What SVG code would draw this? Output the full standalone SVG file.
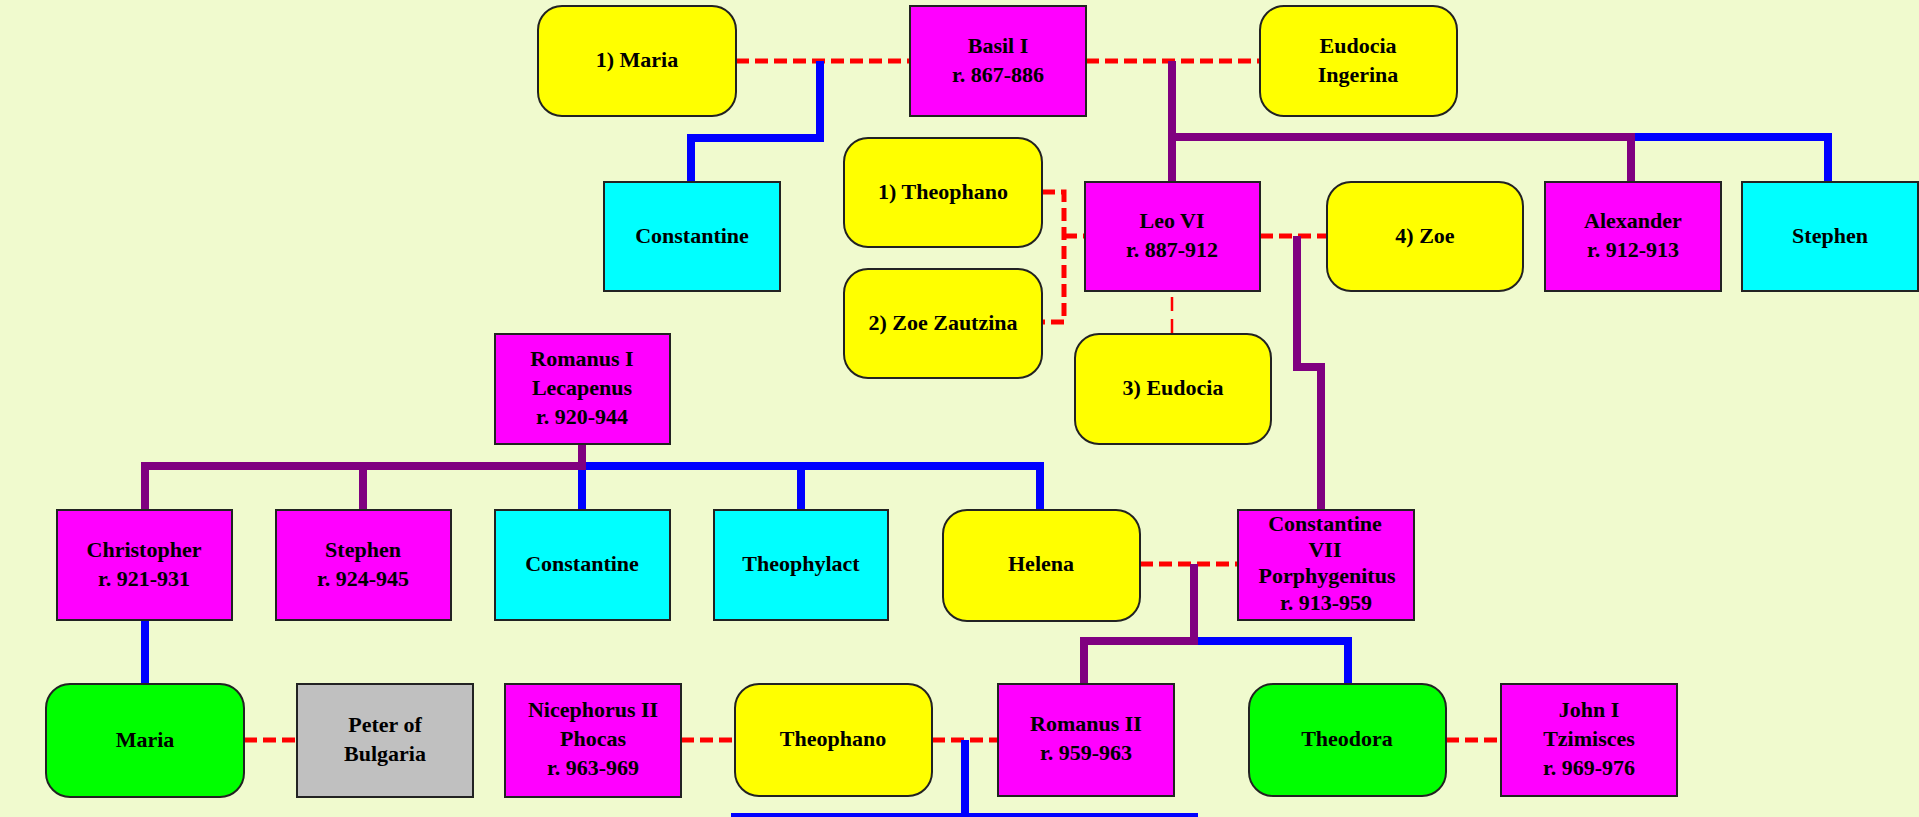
<svg xmlns="http://www.w3.org/2000/svg" width="1919" height="817" viewBox="0 0 1919 817">
<style>
.n{stroke:#222;stroke-width:2}
.m{fill:#FF00FF}.y{fill:#FFFF00}.c{fill:#00FFFF}.g{fill:#00FF00}.s{fill:#C0C0C0}
text{font-family:"Liberation Serif","Times New Roman",serif;font-weight:bold;font-size:22px;fill:#000;text-anchor:middle}
.p{fill:none;stroke:#800080;stroke-width:8;stroke-linejoin:miter}
.b{fill:none;stroke:#0000FF;stroke-width:8;stroke-linejoin:miter}
.r{fill:none;stroke:#FF0000;stroke-width:5;stroke-dasharray:13 6}
.rt{fill:none;stroke:#FF0000;stroke-width:2.5;stroke-dasharray:14 8}
</style>
<rect x="0" y="0" width="1919" height="817" fill="#F0FACE"/>
<g id="connectors">
<path class="r" d="M736,61 H910"/>
<path class="r" d="M1086,61 H1260"/>
<path class="r" d="M1042,192 H1064 V322 H1042"/>
<path class="r" d="M1064,236 H1085"/>
<path class="r" d="M1260,236 H1327"/>
<path class="rt" d="M1172,297 V334"/>
<path class="r" d="M1140,564 H1238"/>
<path class="r" d="M244,740 H297"/>
<path class="r" d="M681,740 H735"/>
<path class="r" d="M932,740 H998"/>
<path class="r" d="M1446,740 H1501"/>
<path class="b" d="M820,61 V138 H691 V182"/>
<path class="p" d="M1172,61 V182"/>
<path class="b" d="M1631,137 H1828 V182"/>
<path class="p" d="M1168,137 H1631 V182"/>
<path class="p" d="M1297,236 V367 H1321 V510"/>
<path class="b" d="M582,466 H1040 V510"/>
<path class="b" d="M582,466 V510"/>
<path class="b" d="M801,466 V510"/>
<path class="p" d="M582,444 V466 H145 V510"/>
<path class="p" d="M363,466 V510"/>
<path class="b" d="M145,620 V684"/>
<path class="b" d="M1194,641 H1348 V684"/>
<path class="p" d="M1194,564 V641 H1084 V684"/>
<path class="b" d="M965,740 V817"/>
<path class="b" d="M731,817 H1198"/>
</g>
<g id="maria1"><rect class="n y" x="538" y="6" width="198" height="110" rx="24"/><text x="637" y="67">1) Maria</text></g>
<g id="basil"><rect class="n m" x="910" y="6" width="176" height="110"/><text x="998" y="53">Basil I</text><text x="998" y="82">r. 867-886</text></g>
<g id="eudocia_ingerina"><rect class="n y" x="1260" y="6" width="197" height="110" rx="24"/><text x="1358" y="53">Eudocia</text><text x="1358" y="82">Ingerina</text></g>
<g id="constantine_basil"><rect class="n c" x="604" y="182" width="176" height="109"/><text x="692" y="243">Constantine</text></g>
<g id="theophano1"><rect class="n y" x="844" y="138" width="198" height="109" rx="24"/><text x="943" y="199">1) Theophano</text></g>
<g id="zoe_zautzina"><rect class="n y" x="844" y="269" width="198" height="109" rx="24"/><text x="943" y="330">2) Zoe Zautzina</text></g>
<g id="leo6"><rect class="n m" x="1085" y="182" width="175" height="109"/><text x="1172" y="228">Leo VI</text><text x="1172" y="257">r. 887-912</text></g>
<g id="eudocia3"><rect class="n y" x="1075" y="334" width="196" height="110" rx="24"/><text x="1173" y="395">3) Eudocia</text></g>
<g id="zoe4"><rect class="n y" x="1327" y="182" width="196" height="109" rx="24"/><text x="1425" y="243">4) Zoe</text></g>
<g id="alexander"><rect class="n m" x="1545" y="182" width="176" height="109"/><text x="1633" y="228">Alexander</text><text x="1633" y="257">r. 912-913</text></g>
<g id="stephen_basil"><rect class="n c" x="1742" y="182" width="176" height="109"/><text x="1830" y="243">Stephen</text></g>
<g id="romanus1"><rect class="n m" x="495" y="334" width="175" height="110"/><text x="582" y="366">Romanus I</text><text x="582" y="395">Lecapenus</text><text x="582" y="424">r. 920-944</text></g>
<g id="christopher"><rect class="n m" x="57" y="510" width="175" height="110"/><text x="144" y="557">Christopher</text><text x="144" y="586">r. 921-931</text></g>
<g id="stephen_romanus"><rect class="n m" x="276" y="510" width="175" height="110"/><text x="363" y="557">Stephen</text><text x="363" y="586">r. 924-945</text></g>
<g id="constantine_romanus"><rect class="n c" x="495" y="510" width="175" height="110"/><text x="582" y="571">Constantine</text></g>
<g id="theophylact"><rect class="n c" x="714" y="510" width="174" height="110"/><text x="801" y="571">Theophylact</text></g>
<g id="helena"><rect class="n y" x="943" y="510" width="197" height="111" rx="24"/><text x="1041" y="571">Helena</text></g>
<g id="constantine7"><rect class="n m" x="1238" y="510" width="176" height="110"/><text x="1325" y="531">Constantine</text><text x="1325" y="557">VII</text><text x="1327" y="583">Porphygenitus</text><text x="1326" y="610">r. 913-959</text></g>
<g id="maria_green"><rect class="n g" x="46" y="684" width="198" height="113" rx="24"/><text x="145" y="747">Maria</text></g>
<g id="peter"><rect class="n s" x="297" y="684" width="176" height="113"/><text x="385" y="732">Peter of</text><text x="385" y="761">Bulgaria</text></g>
<g id="nicephorus"><rect class="n m" x="505" y="684" width="176" height="113"/><text x="593" y="717">Nicephorus II</text><text x="593" y="746">Phocas</text><text x="593" y="775">r. 963-969</text></g>
<g id="theophano"><rect class="n y" x="735" y="684" width="197" height="112" rx="24"/><text x="833" y="746">Theophano</text></g>
<g id="romanus2"><rect class="n m" x="998" y="684" width="176" height="112"/><text x="1086" y="731">Romanus II</text><text x="1086" y="760">r. 959-963</text></g>
<g id="theodora"><rect class="n g" x="1249" y="684" width="197" height="112" rx="24"/><text x="1347" y="746">Theodora</text></g>
<g id="john1"><rect class="n m" x="1501" y="684" width="176" height="112"/><text x="1589" y="717">John I</text><text x="1589" y="746">Tzimisces</text><text x="1589" y="775">r. 969-976</text></g>
</svg>
